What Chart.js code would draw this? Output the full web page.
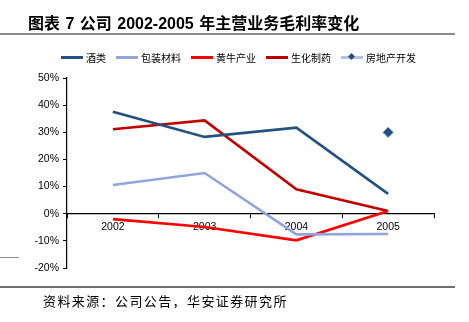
<!DOCTYPE html>
<html>
<head>
<meta charset="utf-8">
<script src="https://cdn.jsdelivr.net/npm/chart.js@4"></script>
<style>
  html, body { margin: 0; padding: 0; background: #fff; }
  body { width: 469px; height: 322px; position: relative; overflow: hidden; font-family: "Liberation Sans", Arial, sans-serif; }
  #title { position: absolute; left: 28px; top: 10px; font: bold 16px "Liberation Sans", "Noto Sans CJK SC", sans-serif; color: #000; white-space: nowrap; word-spacing: 1px; }
  .rule { position: absolute; left: 0; height: 2px; }
  #legend { position: absolute; left: 61px; top: 50px; display: flex; align-items: center; font: 10px "Noto Sans CJK SC", sans-serif; color: #000; }
  .lg-item { display: flex; align-items: center; margin-right: 10px; }
  .lg-line { width: 22px; height: 3px; margin-right: 3px; position: relative; }
  .lg-dot { position: absolute; left: 8px; top: -2px; width: 5px; height: 5px; background: #24527f; transform: rotate(45deg); }
  #source { position: absolute; left: 43px; top: 291px; font: 13px "Noto Sans CJK SC", serif; letter-spacing: 1.4px; color: #000; white-space: nowrap; }
  #wrap { position: absolute; left: 0; top: 0; width: 469px; height: 322px; }
</style>
</head>
<body>
<div id="wrap"><canvas id="c" width="469" height="322"></canvas></div>
<div id="title">图表 7 公司 2002-2005 年主营业务毛利率变化</div>
<div class="rule" style="top:33px;width:455px;background:#8c8c8c"></div>
<div class="rule" style="top:257px;width:19px;height:1px;background:#8c8c8c"></div>
<div class="rule" style="top:286px;width:455px;background:#6e6e6e"></div>
<div id="legend"></div>
<div id="source">资料来源：公司公告，华安证券研究所</div>
<script>
(function () {
  const years = ["2002", "2003", "2004", "2005"];
  const names = ["酒类", "包装材料", "黄牛产业", "生化制药", "房地产开发"];
  const liquor = [37.6, 28.3, 31.7, 7.3];
  const packaging = [10.6, 15.0, -7.6, -7.5];
  const cattle = [-2.0, -4.9, -9.8, 1.0];
  const pharma = [31.1, 34.4, 9.0, 1.0];
  const realty = [null, null, null, 30.0];
  const colors = ["#24527f", "#8fa5db", "#ff0000", "#c00000", "#b4c3e6"];

  const series = [liquor, packaging, cattle, pharma];
  const datasets = series.map((d, i) => ({
    label: names[i],
    data: d,
    borderColor: colors[i],
    backgroundColor: colors[i],
    borderWidth: 2.6,
    pointRadius: 0,
    tension: 0,
  }));
  datasets.push({
    label: names[4],
    data: realty,
    borderColor: "#c3cfea",
    backgroundColor: "#24527f",
    borderWidth: 1,
    pointStyle: "rectRot",
    pointRadius: 5.5,
    showLine: false,
  });

  // legend
  const legendEl = document.getElementById("legend");
  names.forEach((n, i) => {
    const item = document.createElement("div");
    item.className = "lg-item";
    item.innerHTML = `<div class="lg-line" style="background:${colors[i]}">${i === 4 ? '<div class="lg-dot"></div>' : ""}</div><span>${n}</span>`;
    legendEl.appendChild(item);
  });

  const tickFont = { family: "'Liberation Sans', Arial, sans-serif", size: 10.5 };

  new Chart(document.getElementById("c"), {
    type: "line",
    data: { labels: years, datasets },
    options: {
      responsive: false,
      animation: false,
      layout: { padding: { left: 0, right: 35, top: 78, bottom: 54 } },
      plugins: { legend: { display: false }, tooltip: { enabled: false } },
      scales: {
        x: {
          position: { y: 0 },
          offset: true,
          border: { display: true, color: "#000", width: 1.2 },
          grid: { display: true, drawOnChartArea: false, drawTicks: true, tickLength: 4, color: "#000", offset: true },
          ticks: { color: "#000", font: tickFont, padding: 3, maxRotation: 0 },
        },
        y: {
          min: -20,
          max: 50,
          afterFit: s => { s.width = 67; },
          border: { display: true, color: "#000", width: 1.2 },
          grid: { display: true, drawOnChartArea: false, drawTicks: true, tickLength: 4, color: "#000" },
          ticks: { stepSize: 10, color: "#000", font: tickFont, padding: 4, callback: v => v + "%" },
        },
      },
    },
  });
})();
</script>
</body>
</html>
